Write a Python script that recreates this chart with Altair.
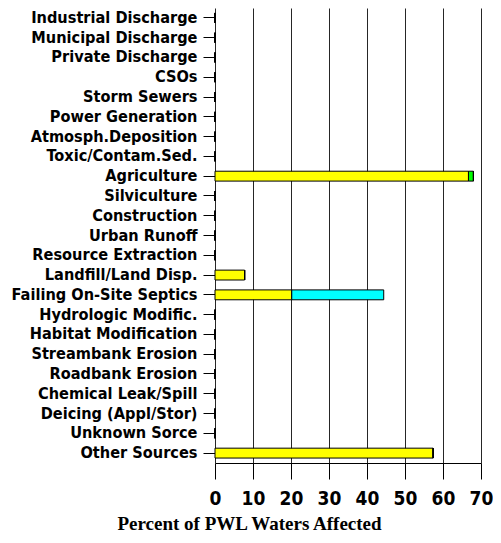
import altair as alt
import pandas as pd

categories = [
    "Industrial Discharge", "Municipal Discharge", "Private Discharge", "CSOs",
    "Storm Sewers", "Power Generation", "Atmosph.Deposition", "Toxic/Contam.Sed.",
    "Agriculture", "Silviculture", "Construction", "Urban Runoff",
    "Resource Extraction", "Landfill/Land Disp.", "Failing On-Site Septics",
    "Hydrologic Modific.", "Habitat Modification", "Streambank Erosion",
    "Roadbank Erosion", "Chemical Leak/Spill", "Deicing (Appl/Stor)",
    "Unknown Sorce", "Other Sources",
]
yellow = [0, 0, 0, 0, 0, 0, 0, 0, 66.7, 0, 0, 0, 0, 7.8, 20.2, 0, 0, 0, 0, 0, 0, 0, 57.4]
green = [0, 0, 0, 0, 0, 0, 0, 0, 1.3, 0, 0, 0, 0, 0, 0, 0, 0, 0, 0, 0, 0, 0, 0]
cyan = [0, 0, 0, 0, 0, 0, 0, 0, 0, 0, 0, 0, 0, 0, 24.2, 0, 0, 0, 0, 0, 0, 0, 0]
series = ["yellow", "green", "cyan"]
series_colors = ["#FFFF00", "#00FF00", "#00FFFF"]
x_ticks = [0, 10, 20, 30, 40, 50, 60, 70]

rows = []
for i, c in enumerate(categories):
    for k, (s, vals) in enumerate(zip(series, [yellow, green, cyan])):
        rows.append({"category": c, "series": s, "value": vals[i], "order": k})
df = pd.DataFrame(rows)

label_font = "DejaVu Sans Condensed"

chart = alt.Chart(df).mark_bar(stroke="black", strokeWidth=1).encode(
    y=alt.Y("category:N", sort=categories,
            scale=alt.Scale(paddingInner=0.5, paddingOuter=0.25),
            axis=alt.Axis(title=None, labelFont=label_font, labelFontSize=16.2,
                          labelFontWeight="bold", labelColor="black",
                          tickSize=12, tickColor="black", labelPadding=6,
                          domain=False, grid=False, labelLimit=300)),
    x=alt.X("value:Q", stack="zero",
            scale=alt.Scale(domain=[0, 70], nice=False),
            axis=alt.Axis(values=x_ticks, title="Percent  of PWL Waters Affected",
                          titleFont="Liberation Serif", titleFontSize=19,
                          titleFontWeight="bold", titleColor="black", titlePadding=6,
                          titleX=34, titleAnchor="start", titleAlign="center",
                          labelFont=label_font, labelFontSize=19, labelFontWeight="bold",
                          labelColor="black", labelFlush=False,
                          labelPadding=10, tickSize=16, tickColor="black",
                          domainColor="black", gridColor="black", gridOpacity=0.85,
                          grid=True)),
    color=alt.Color("series:N", scale=alt.Scale(domain=series, range=series_colors), legend=None),
    order=alt.Order("order:Q"),
).properties(
    width=266, height=455,
    autosize=alt.AutoSizeParams(type="none"),
    padding={"left": 207, "top": 0, "right": 12, "bottom": 72},
).configure_view(stroke=None)

chart.save("out.html", embed_options={"renderer": "svg", "actions": False})
